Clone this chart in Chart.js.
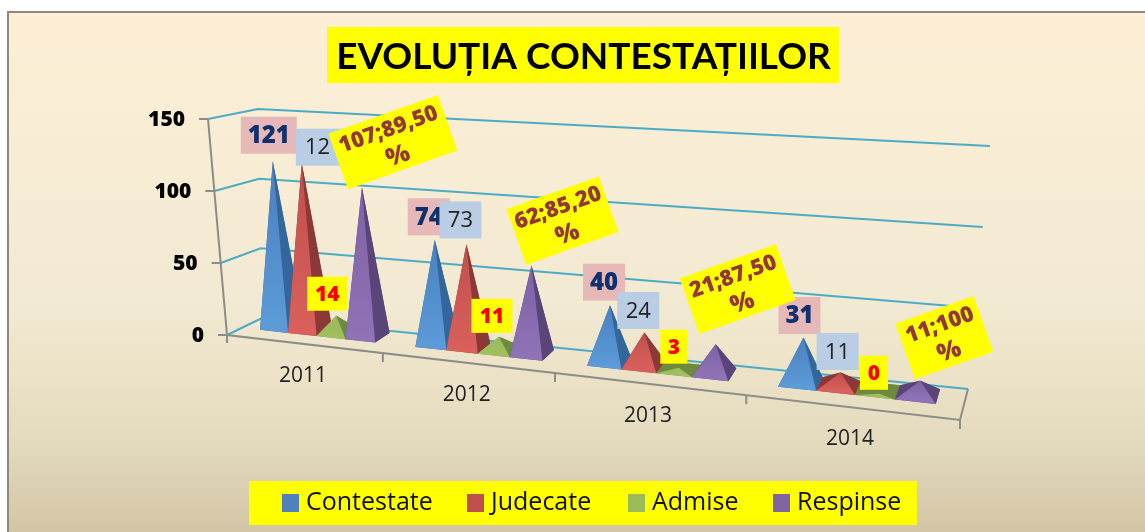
<!DOCTYPE html>
<html><head><meta charset="utf-8">
<style>html,body{margin:0;padding:0;background:#fff}canvas{display:block}</style>
<script src="https://cdn.jsdelivr.net/npm/chart.js@4"></script>
</head><body><canvas id="c" width="1145" height="532"></canvas>
<script>
const categories=['2011','2012','2013','2014'];
const contestate=[121,74,40,31];
const judecate=[121,73,24,11];
const admise=[14,11,3,0];
const respinse=[107,62,21,11];
const respinseLabels=[['107;89,50','%'],['62;85,20','%'],['21;87,50','%'],['11;100','%']];

const CORNER={FBL:[227,335],FBR:[960,420],FTL:[208,119],FTR:[972,172],BBL:[262,318],BBR:[968,389],BTL:[258,109],BTR:[990,146]};
const lerp=(a,b,t)=>[a[0]+(b[0]-a[0])*t,a[1]+(b[1]-a[1])*t];
function P(u,h,d){
  const t=.81*u/(1-.19*u),C=CORNER;
  const f=lerp(lerp(C.FBL,C.FBR,t),lerp(C.FTL,C.FTR,t),h);
  const b=lerp(lerp(C.BBL,C.BBR,t),lerp(C.BTL,C.BTR,t),h);
  return lerp(f,b,d);
}
const D0=.42,D1=.9,DAPEX=.55,HSCALE=.975,USHIFT=.003;
function poly(ctx,pts,fill){ctx.beginPath();pts.forEach((p,i)=>i?ctx.lineTo(p[0],p[1]):ctx.moveTo(p[0],p[1]));ctx.closePath();ctx.fillStyle=fill;ctx.fill();}
function geom(el,area){
  const {x,y,base,width}=el.getProps(['x','y','base','width'],true);
  const u0=(x-width/2-area.left)/area.width,u1=(x+width/2-area.left)/area.width,h=(base-y)/area.height;
  return {a:P(u0,0,D0),b:P(u1,0,D0),c:P(u1,0,D1),d:P(u0,0,D1),top:P((u0+u1)/2+USHIFT,h*HSCALE,DAPEX)};
}
class PyramidElement extends Chart.BarElement{
  static id='pyramid';
  draw(ctx){
    const g=geom(this,this.$area),o=this.options;
    const front=o.backgroundColor,side=o.borderColor;
    ctx.save();
    poly(ctx,[g.a,g.b,g.c,g.d],side);
    poly(ctx,[g.d,g.c,g.top],side);
    poly(ctx,[g.a,g.d,g.top],side);
    poly(ctx,[g.b,g.c,g.top],side);
    const gr=ctx.createLinearGradient(0,g.top[1],0,g.a[1]);
    gr.addColorStop(0,front);gr.addColorStop(1,this.$light);
    poly(ctx,[g.a,g.b,g.top],gr);
    ctx.restore();
  }
}
class PyramidController extends Chart.BarController{
  static id='pyramid';
  static defaults={...Chart.BarController.defaults,dataElementType:'pyramid'};
  static overrides=Chart.BarController.overrides;
  draw(){
    // Chart.js paints the last dataset first; the pyramids must overlap left to right.
    const chart=this.chart,n=chart.data.datasets.length;
    if(this.index!==n-1)return;
    chart.data.datasets.forEach((d,i)=>{
      chart.getDatasetMeta(i).data.forEach(e=>{e.$area=chart.chartArea;e.$light=d.light;e.draw(chart.ctx);});
    });
  }
}
Chart.register(PyramidController,PyramidElement);

const labelStyle=[
 {box:'#E6B9B8',color:'#10306F',font:'800 24px "Open Sans"',w:[56,42,42,42],h:37,off:[[-4,-26],[-6,-23],[-6,-23],[-4,-22]]},
 {box:'#B9CDE5',color:'#222',font:'400 22px "Open Sans"',w:[56,42,42,42],h:37,off:[[22,-16],[-6,-24],[-6,-22],[-3,-21]]},
 {box:'#FFFF00',color:'#FF0000',font:'800 21px "Open Sans"',w:[40,41,27,28],h:34,off:[[-9,-22],[-7,-21],[-5,-21],[-5,-21]]}
];
const rotStyle={w:[116,98,102,83],h:59,off:[[31,-45],[31,-45],[22,-55],[24,-43]]};

const decor={id:'decor',
 beforeDraw(chart){
  const c=chart.ctx;c.save();
  c.fillStyle='#fff';c.fillRect(0,0,1145,532);
  const g=c.createLinearGradient(0,12,0,532);
  g.addColorStop(0,'#FDEFD6');g.addColorStop(.55,'#F3EAD3');g.addColorStop(.8,'#E6DDC0');g.addColorStop(1,'#D3C6A6');
  c.fillStyle=g;c.fillRect(8,12,1137,520);
  c.strokeStyle='#8A8A80';c.lineWidth=2;c.beginPath();c.moveTo(8,532);c.lineTo(8,12);c.lineTo(1145,12);c.stroke();
  c.fillStyle='#FFFF00';c.fillRect(327,27,512,56);
  c.fillRect(249,481,668,44);
  c.restore();
  drawAxes(chart);
  drawLegend(chart);
 },
 afterDatasetsDraw(chart){
  const c=chart.ctx;c.save();c.textAlign='center';c.textBaseline='middle';
  const area=chart.chartArea;
  labelStyle.forEach((s,di)=>{
    chart.getDatasetMeta(di).data.forEach((el,i)=>{
      const g=geom(el,area),cx=g.top[0]+s.off[i][0],cy=g.top[1]+s.off[i][1];
      c.fillStyle=s.box;c.fillRect(cx-s.w[i]/2,cy-s.h/2,s.w[i],s.h);
      c.fillStyle=s.color;c.font=s.font;c.fillText(String(chart.data.datasets[di].data[i]),cx,cy+1);
    });
  });
  chart.getDatasetMeta(3).data.forEach((el,i)=>{
    const g=geom(el,area),cx=g.top[0]+rotStyle.off[i][0],cy=g.top[1]+rotStyle.off[i][1];
    c.save();c.translate(cx,cy);c.rotate(-19.5*Math.PI/180);
    c.fillStyle='#FFFF00';c.fillRect(-rotStyle.w[i]/2,-rotStyle.h/2,rotStyle.w[i],rotStyle.h);
    c.fillStyle='#953735';c.font='800 22px "Open Sans"';
    c.fillText(respinseLabels[i][0],0,-13);
    c.font='800 25px "Open Sans"';c.fillText(respinseLabels[i][1],0,15);
    c.restore();
  });
  c.restore();
 }
};
function line(c,pts,col,w){c.strokeStyle=col;c.lineWidth=w;c.beginPath();pts.forEach((p,i)=>i?c.lineTo(p[0],p[1]):c.moveTo(p[0],p[1]));c.stroke();}
function drawAxes(chart){
  const c=chart.ctx,y=chart.scales.y,x=chart.scales.x,a=chart.chartArea;
  c.save();
  const GRID='#4BACC6',AX='#8C8C88';
  y.ticks.forEach(t=>{
    const h=(y.bottom-y.getPixelForValue(t.value))/y.height;
    line(c,[P(0,h,0),P(0,h,1),P(1,h,1)],GRID,2);
  });
  line(c,[P(1,0,1),P(1,0,0),P(0,0,0),P(0,1,0)],AX,2);
  c.textAlign='right';c.textBaseline='middle';c.fillStyle='#000';c.font='800 21px "Open Sans"';
  y.ticks.forEach(t=>{
    const h=(y.bottom-y.getPixelForValue(t.value))/y.height,p=P(0,h,0);
    line(c,[p,[p[0]-9,p[1]]],AX,2);
    c.fillText(String(t.value),p[0]-23,p[1]+1);
  });
  c.textAlign='center';c.fillStyle='#222';c.font='400 21px "Open Sans"';
  const cw=a.width/categories.length;
  x.ticks.forEach((t,i)=>{
    const mid=(x.getPixelForValue(i)-a.left)/a.width;
    const p=P(mid,0,0);
    c.fillText(x.getLabelForValue(t.value),p[0],p[1]+32);
    const e=P(mid+cw/2/a.width,0,0);
    line(c,[e,[e[0],e[1]+9]],AX,2);
  });
  const s=P(0,0,0);line(c,[s,[s[0],s[1]+8]],AX,2);
  c.restore();
}
function drawLegend(chart){
  const c=chart.ctx;c.save();c.textBaseline='middle';c.textAlign='left';c.font='400 25px "Open Sans"';
  const starts=[282,467,628,773];
  chart.data.datasets.forEach((d,i)=>{
    c.fillStyle=d.swatch;c.fillRect(starts[i],494,17,18);
    c.fillStyle='#111';c.fillText(d.label,starts[i]+24,503);
  });
  c.restore();
}
new Chart(document.getElementById('c'),{
 type:'pyramid',
 data:{labels:categories,datasets:[
  {label:'Contestate',data:contestate,swatch:'#4F81BD',backgroundColor:'#4A80C0',light:'#5C9AD8',borderColor:'#33669A',clip:false},
  {label:'Judecate',data:judecate,swatch:'#C0504D',backgroundColor:'#C04F4C',light:'#D9605C',borderColor:'#8C3836',clip:false},
  {label:'Admise',data:admise,swatch:'#9BBB59',backgroundColor:'#9BBB59',light:'#A0C060',borderColor:'#6E8A3E',clip:false},
  {label:'Respinse',data:respinse,swatch:'#8064A2',backgroundColor:'#7E62A6',light:'#9072B6',borderColor:'#5A4478',clip:false}
 ]},
 options:{
  responsive:false,animation:false,
  layout:{padding:{left:22}},
  datasets:{pyramid:{categoryPercentage:.75,barPercentage:1}},
  plugins:{
   legend:{display:false},tooltip:{enabled:false},
   title:{display:true,text:'EVOLUȚIA CONTESTAȚIILOR',color:'#000',font:{family:'Lato',weight:'bold',size:37},padding:{top:35,bottom:10}}
  },
  scales:{
   x:{type:'category',display:false,offset:true},
   y:{type:'linear',display:false,min:0,max:150,ticks:{stepSize:50}}
  }
 },
 plugins:[decor]
});
</script></body></html>
